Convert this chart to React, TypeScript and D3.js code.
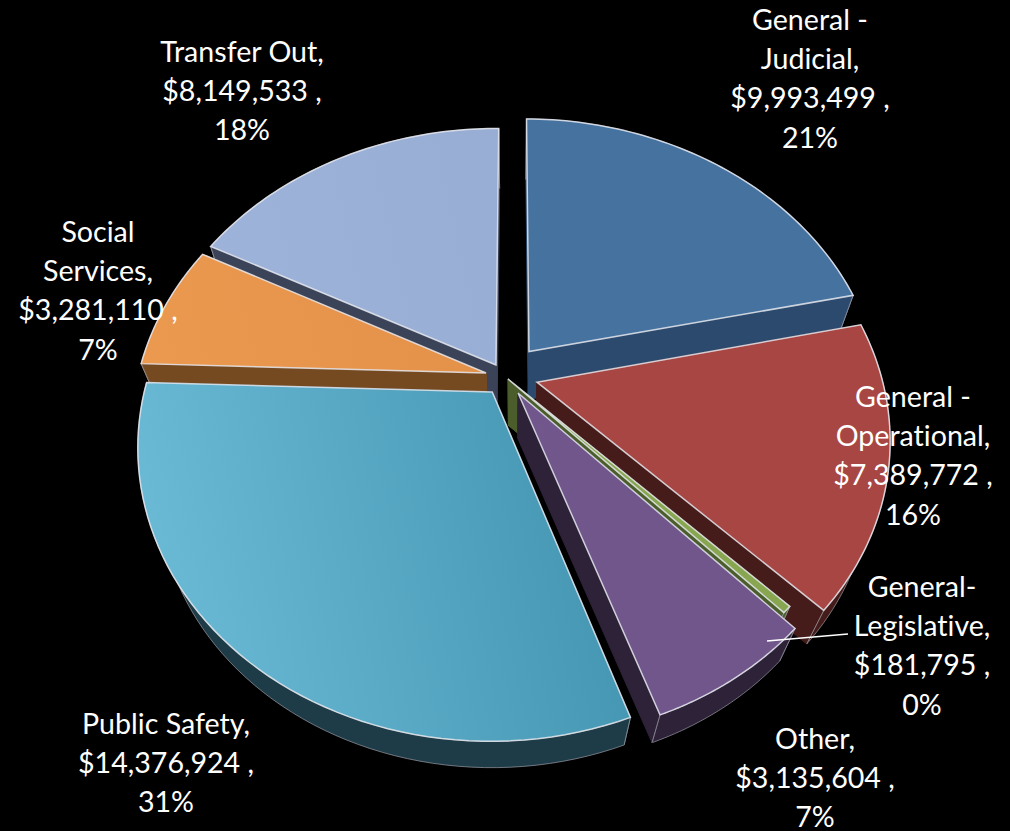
import React from "react";
import * as d3 from "d3";

const categories = ["General - Judicial", "General - Operational", "General-Legislative", "Other", "Public Safety", "Social Services", "Transfer Out"];
const values = [9993499, 7389772, 181795, 3135604, 14376924, 3281110, 8149533];
const labelLines = [
  ["General -", "Judicial,", "$9,993,499 ,", "21%"],
  ["General -", "Operational,", "$7,389,772 ,", "16%"],
  ["General-", "Legislative,", "$181,795 ,", "0%"],
  ["Other,", "$3,135,604 ,", "7%"],
  ["Public Safety,", "$14,376,924 ,", "31%"],
  ["Social", "Services,", "$3,281,110 ,", "7%"],
  ["Transfer Out,", "$8,149,533 ,", "18%"],
];
const labelX = [810, 913, 922, 815, 166, 98, 242];
const labelY = [30, 407, 597, 749, 734, 242, 62];

const topLight = ["#4a7bb2", "#ae4a48", "#8fae55", "#775b93", "#6abad6", "#ec9a50", "#a0b5dc"];
const topDark = ["#46729f", "#a84644", "#88a650", "#70568b", "#4596b2", "#e28f48", "#98add3"];
const wallColor = ["#2c4a6e", "#461c1a", "#4a5d2a", "#2e2239", "#1d3c48", "#764a21", "#3b4358"];
const explodeU = [0.0846, 0.1057, 0.023, 0.0512, -0.022, -0.0403, -0.0115];
const explodeV = [-0.12, -0.01, -0.021, 0.0279, 0.0244, -0.0425, -0.0711];
const radius = [1.01, 0.99, 0.99, 0.98, 0.99, 1, 1.01];
const paintOrder = [6, 0, 5, 1, 2, 3, 4];

const CX = 500, CY = 385, A = 350, B = 285, K = 0.186;
const NADIR = [515, 1220], SHRINK = 0.945;
const ROTATION = 0.007;

type P = [number, number];
const project = (u: number, v: number): P => {
  const w = 1 - K * v;
  return [CX + (A * u) / w, CY + (B * v) / w];
};
const lower = (p: P): P => [
  NADIR[0] + (p[0] - NADIR[0]) * SHRINK,
  NADIR[1] + (p[1] - NADIR[1]) * SHRINK,
];

const pie = d3.pie<number>().sort(null).value((d) => d).startAngle(ROTATION).endAngle(2 * Math.PI + ROTATION);
const arcs = pie(values);
const line = d3.line<P>().x((d) => d[0]).y((d) => d[1]);
const closed = (pts: P[]) => line(pts) + "Z";

export default function App() {
  return (
    <svg
      width={1010}
      height={831}
      viewBox="0 0 1010 831"
      style={{ position: "absolute", left: 0, top: 0, background: "#000", display: "block" }}
    >
      <defs>
        {categories.map((c, i) => (
          <linearGradient key={c} id={`g${i}`} gradientUnits="userSpaceOnUse" x1={140} y1={520} x2={580} y2={420}>
            <stop offset="0" stopColor={topLight[i]} />
            <stop offset="1" stopColor={topDark[i]} />
          </linearGradient>
        ))}
      </defs>
      <rect width={1010} height={831} fill="#000" />
      {paintOrder.map((i) => {
        const a = arcs[i];
        const du = explodeU[i], dv = explodeV[i], r = radius[i];
        const ts = d3.range(0, 61).map((s) => a.startAngle + ((a.endAngle - a.startAngle) * s) / 60);
        const rim: P[] = ts.map((t) => project(du + r * Math.sin(t), dv - r * Math.cos(t)));
        const apex = project(du, dv);
        const rimLow = rim.map(lower);
        const apexLow = lower(apex);
        const wall = wallColor[i];
        return (
          <g key={categories[i]}>
            <path
              d={closed([...rim, ...rimLow.slice().reverse()])}
              fill={wall}
              stroke="#9a9aa4"
              strokeWidth={1}
              strokeOpacity={0.7}
            />
            <path d={closed([apex, rim[0], rimLow[0], apexLow])} fill={wall} stroke={wall} strokeWidth={1} />
            <path d={closed([apex, rim[60], rimLow[60], apexLow])} fill={wall} stroke={wall} strokeWidth={1} />
            <path d={line([rim[0], rimLow[0]]) ?? ""} stroke="#9a9aa4" strokeOpacity={0.8} fill="none" />
            <path d={line([rim[60], rimLow[60]]) ?? ""} stroke="#9a9aa4" strokeOpacity={0.8} fill="none" />
            <path
              d={closed([apex, ...rim])}
              fill={`url(#g${i})`}
              stroke="#e6e9f0"
              strokeOpacity={0.85}
              strokeWidth={1.5}
              strokeLinejoin="miter"
            />
          </g>
        );
      })}
      <line x1={767} y1={641} x2={848} y2={634} stroke="#fff" strokeWidth={1.6} />
      {labelLines.map((lines, i) => (
        <text
          key={categories[i]}
          x={labelX[i]}
          y={labelY[i]}
          textAnchor="middle"
          fill="#fff"
          fontFamily="Lato, 'Open Sans', sans-serif"
          fontSize={28.6}
          style={{ fontVariantLigatures: "none" }}
        >
          {lines.map((l, j) => (
            <tspan key={j} x={labelX[i]} y={labelY[i] + j * 39.2}>
              {l}
            </tspan>
          ))}
        </text>
      ))}
    </svg>
  );
}
